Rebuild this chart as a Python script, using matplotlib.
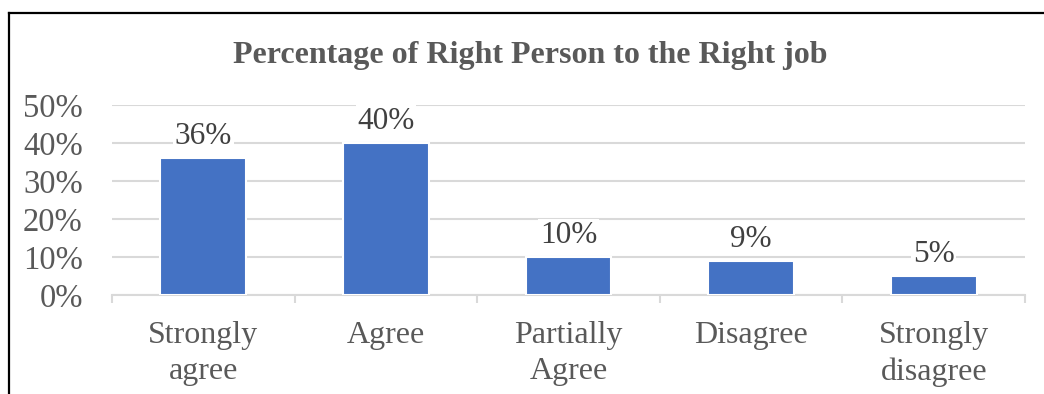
import matplotlib
matplotlib.use("Agg")
import matplotlib.pyplot as plt
from matplotlib.lines import Line2D
import numpy as np

plt.rcParams['font.family'] = ['Liberation Serif', 'DejaVu Serif']

categories = ['Strongly\nagree', 'Agree', 'Partially\nAgree', 'Disagree', 'Strongly\ndisagree']
values = [36, 40, 10, 9, 5]
y_ticks = [0, 10, 20, 30, 40, 50]
y_tick_labels = ['0%', '10%', '20%', '30%', '40%', '50%']

BAR = '#4472C4'
GRID = '#d9d9d9'
TEXT = '#595959'

fig = plt.figure(figsize=(10.44, 3.94), dpi=100)
ax = fig.add_axes([0.1073, 0.2513, 0.8745, 0.4822])

x = np.arange(len(categories))
bars = ax.bar(x, values, width=0.47, color=BAR, edgecolor='white', linewidth=1.5, zorder=3)

for bar, v in zip(bars, values):
    ax.annotate(f'{v}%', xy=(bar.get_x() + bar.get_width() / 2, v),
                xytext=(0, 5), textcoords='offset points', ha='center', va='bottom',
                fontsize=22.5, color='#404040', zorder=4,
                bbox=dict(boxstyle='square,pad=0.05', fc='white', ec='none'))

ax.set_xlim(-0.5, len(categories) - 0.5)
ax.set_ylim(0, 50)
ax.set_yticks(y_ticks)
ax.set_yticklabels(y_tick_labels, fontsize=23.5, color=TEXT)
ax.yaxis.grid(True, color=GRID, linewidth=1.5, zorder=0)
ax.set_axisbelow(True)
ax.tick_params(axis='y', length=0, pad=21)

ax.set_xticks(x)
ax.set_xticklabels(categories, fontsize=23, color=TEXT, linespacing=1.32)
ax.set_xticks(np.arange(-0.5, len(categories)), minor=True)
ax.tick_params(axis='x', which='major', length=0, pad=19)
ax.tick_params(axis='x', which='minor', length=6, width=1.5, color=GRID)

for s in ['top', 'right', 'left']:
    ax.spines[s].set_visible(False)
ax.spines['bottom'].set_color(GRID)
ax.spines['bottom'].set_linewidth(1.5)

fig.text(0.508, 0.858, 'Percentage of Right Person to the Right job',
         ha='center', va='center', fontsize=23, fontweight='bold', color=TEXT)

# outer frame, left and top edges
fig.add_artist(Line2D([0.0088, 0.0088], [0.0, 0.967], transform=fig.transFigure,
                      color='black', linewidth=1.6))
fig.add_artist(Line2D([0.0088, 1.0], [0.967, 0.967], transform=fig.transFigure,
                      color='black', linewidth=1.6))

fig.savefig('out.png', dpi=100)
